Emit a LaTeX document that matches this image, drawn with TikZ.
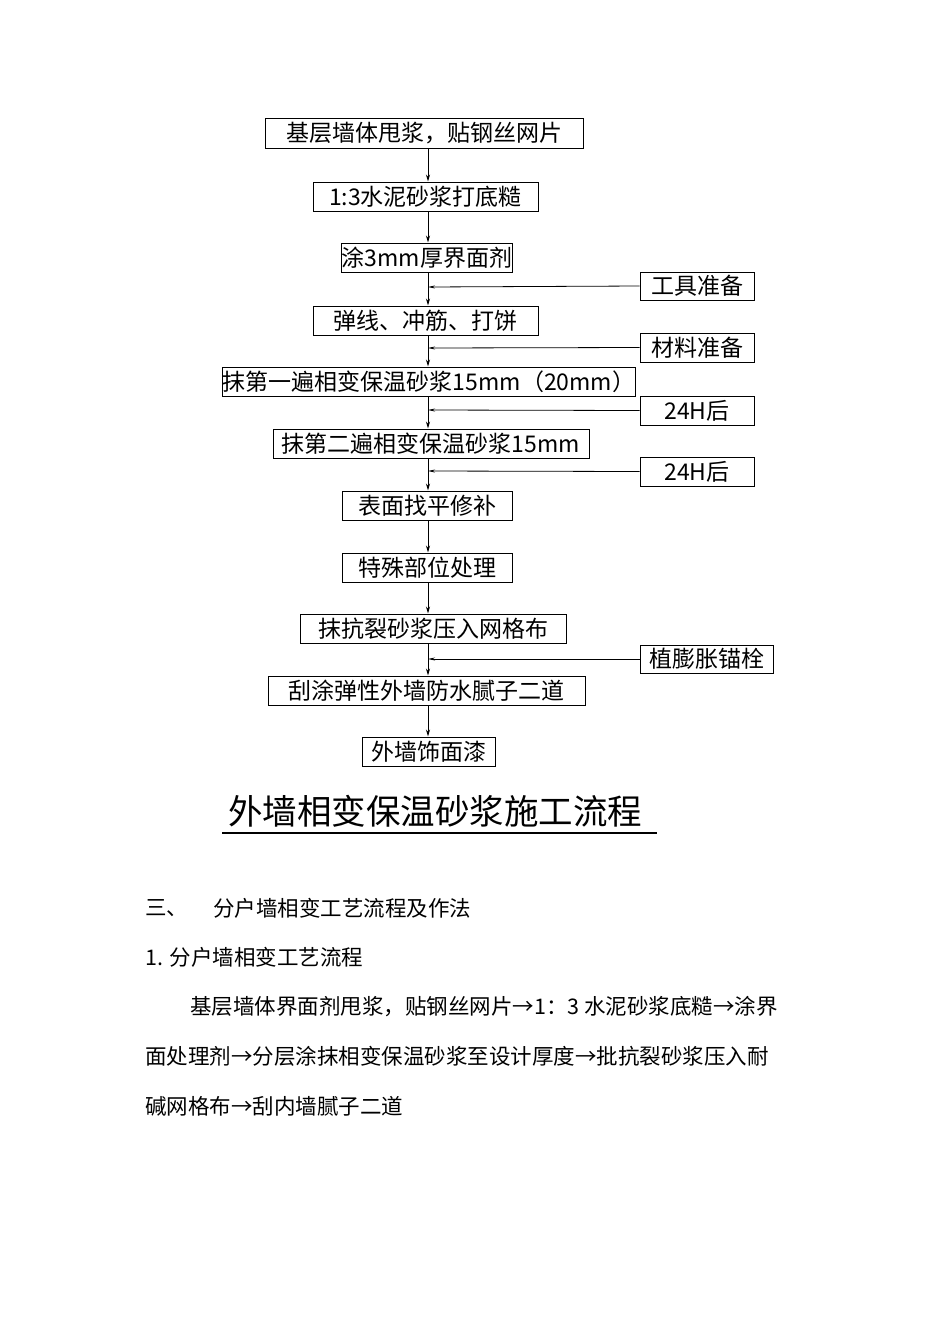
\documentclass[tikz,border=0pt]{standalone}
\usepackage{fontspec}
\setmainfont{Liberation Serif}
\newfontfamily\cjk{Noto Sans CJK SC}
\usetikzlibrary{arrows.meta}
\begin{document}
\begin{tikzpicture}[x=1pt,y=-1pt,
  bx/.style={draw,line width=1pt,inner sep=0pt,font=\cjk\fontsize{23}{23}\selectfont},
  arr/.style={line width=0.8pt,-{Stealth[length=7pt,width=4pt]}},
  sarr/.style={line width=0.8pt,-{Stealth[length=7pt,width=3pt]}},
  para/.style={anchor=west,inner sep=0pt,font=\cjk\fontsize{21.5}{21.5}\selectfont}]
\fill[white] (0,0) rectangle (950,1344);
\coordinate (axis) at (428,0);
\newcommand\bxat[6]{\node[bx,minimum width=#3-#2,minimum height=#5-#4] (#1) at ({(#2+#3)/2},{(#4+#5)/2}) {#6};}
\bxat{b1}{265}{583}{118}{148}{基层墙体甩浆，贴钢丝网片}
\bxat{b2}{313}{538}{182}{211}{1:3水泥砂浆打底糙}
\bxat{b3}{342}{512}{243}{272}{涂3mm厚界面剂}
\bxat{b4}{313}{538}{306}{335}{弹线、冲筋、打饼}
\bxat{b5}{225}{633}{367}{396}{抹第一遍相变保温砂浆15mm（20mm）}
\bxat{b6}{273}{589}{429}{458}{抹第二遍相变保温砂浆15mm}
\bxat{b7}{342}{512}{491}{520}{表面找平修补}
\bxat{b8}{342}{512}{553}{582}{特殊部位处理}
\bxat{b9}{300}{566}{614}{643}{抹抗裂砂浆压入网格布}
\bxat{b10}{268}{585}{676}{705}{刮涂弹性外墙防水腻子二道}
\bxat{b11}{362}{495}{737}{766}{外墙饰面漆}
\bxat{s1}{640}{754}{272}{300}{工具准备}
\bxat{s2}{640}{754}{333}{362}{材料准备}
\bxat{s3}{640}{754}{396}{425}{24H后}
\bxat{s4}{640}{754}{457}{486}{24H后}
\bxat{s5}{640}{773}{645}{673}{植膨胀锚栓}
\foreach \a/\b in {b1/b2,b2/b3,b3/b4,b4/b5,b5/b6,b6/b7,b7/b8,b8/b9,b9/b10,b10/b11}
  \draw[arr] (\a.south -| axis) -- (\b.north -| axis);
\foreach \s/\y in {s1/287,s2/348,s3/410,s4/471,s5/659}{
  \coordinate (e\s) at (428,\y);
  \draw[sarr] (\s.west) -- (e\s);}
\node[anchor=south west,inner sep=0pt,font=\cjk\fontsize{34.5}{34.5}\selectfont] (title) at (228,828) {外墙相变保温砂浆施工流程};
\draw[line width=2.5pt] (222,833) -- (657,833);
\node[para] (h1) at (145,908) {三、};
\node[para] (h2) at (213,908) {分户墙相变工艺流程及作法};
\node[para] (h3) at (145,957) {1. 分户墙相变工艺流程};
\node[para] (p1) at (190,1007) {基层墙体界面剂甩浆，贴钢丝网片→1：3 水泥砂浆底糙→涂界};
\node[para] (p2) at (145,1056) {面处理剂→分层涂抹相变保温砂浆至设计厚度→批抗裂砂浆压入耐};
\node[para] (p3) at (145,1106) {碱网格布→刮内墙腻子二道};
\end{tikzpicture}
\end{document}
